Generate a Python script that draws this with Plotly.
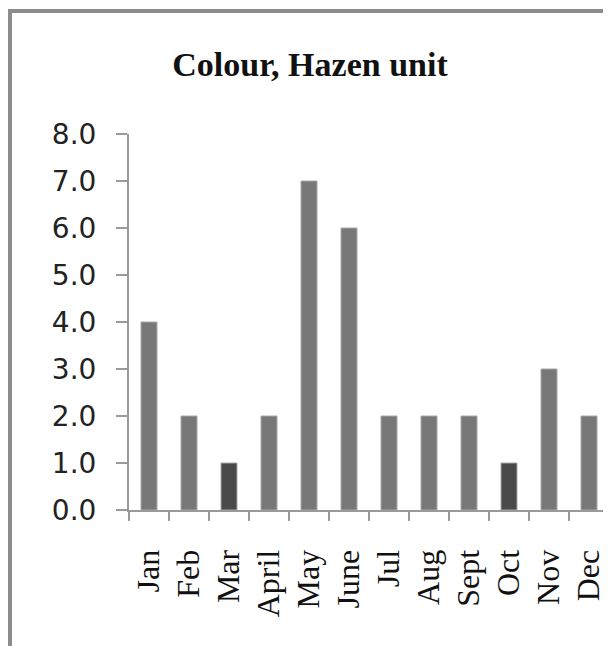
import plotly.graph_objects as go

months = ['Jan', 'Feb', 'Mar', 'April', 'May', 'June',
          'Jul', 'Aug', 'Sept', 'Oct', 'Nov', 'Dec']
colour_hazen = [4, 2, 1, 2, 7, 6, 2, 2, 2, 1, 3, 2]
# Mar and Oct are drawn in a darker shade
bar_colours = ['#4a4a4a' if m in ('Mar', 'Oct') else '#787878' for m in months]
y_ticks = [0, 1, 2, 3, 4, 5, 6, 7, 8]

# the page puts the plot 8px in from the top-left corner, so the figure is
# a bit smaller than the window and every position below is shifted by 8
OFF = 8
W, H = 611 - OFF, 646 - OFF
L, R, T, B = 129 - OFF, 2, 134 - OFF, 136
pw, ph = W - L - R, H - T - B


def px_x(v):
    # window pixel -> paper x
    return (v - OFF - L) / pw


def px_y(v):
    # window pixel -> paper y
    return (H - B - (v - OFF)) / ph


fig = go.Figure()
fig.add_trace(go.Bar(
    x=months, y=colour_hazen,
    width=0.4,
    marker=dict(color=bar_colours, line=dict(color='#a8a8a8', width=1)),
    showlegend=False,
))

axis_grey = '#9a9a9a'

# outer chart frame (only left and top edges visible in the picture)
fig.add_shape(type='rect', xref='paper', yref='paper',
              x0=px_x(10), x1=px_x(630), y0=px_y(670), y1=px_y(11),
              line=dict(color='#8c8c8c', width=4), layer='below')

fig.update_layout(
    width=W, height=H,
    margin=dict(l=L, r=R, t=T, b=B),
    paper_bgcolor='white', plot_bgcolor='white',
    title=dict(text='<b>Colour, Hazen unit</b>',
               font=dict(family='Liberation Serif', size=34, color='#111111'),
               x=px_x(310), xref='paper', xanchor='center',
               y=1 - (64 - OFF) / H, yref='container', yanchor='middle'),
    bargap=0.6,
)
fig.update_xaxes(
    showline=True, linecolor=axis_grey, linewidth=2,
    ticks='outside', tickson='boundaries', ticklen=9, tickwidth=2, tickcolor=axis_grey,
    tickangle=-90,
    tickfont=dict(family='Liberation Serif', size=32, color='#111111'),
    ticklabelstandoff=25,
    showgrid=False, fixedrange=True,
)
fig.update_yaxes(
    range=[0, 8],
    tickvals=y_ticks, ticktext=[f'{v:.1f}' for v in y_ticks],
    showline=True, linecolor=axis_grey, linewidth=2,
    ticks='outside', ticklen=11, tickwidth=2, tickcolor=axis_grey,
    tickfont=dict(family='DejaVu Sans', size=28, color='#222222'),
    ticklabelstandoff=14,
    showgrid=False, zeroline=False, fixedrange=True,
)

fig.write_html('out.html')
